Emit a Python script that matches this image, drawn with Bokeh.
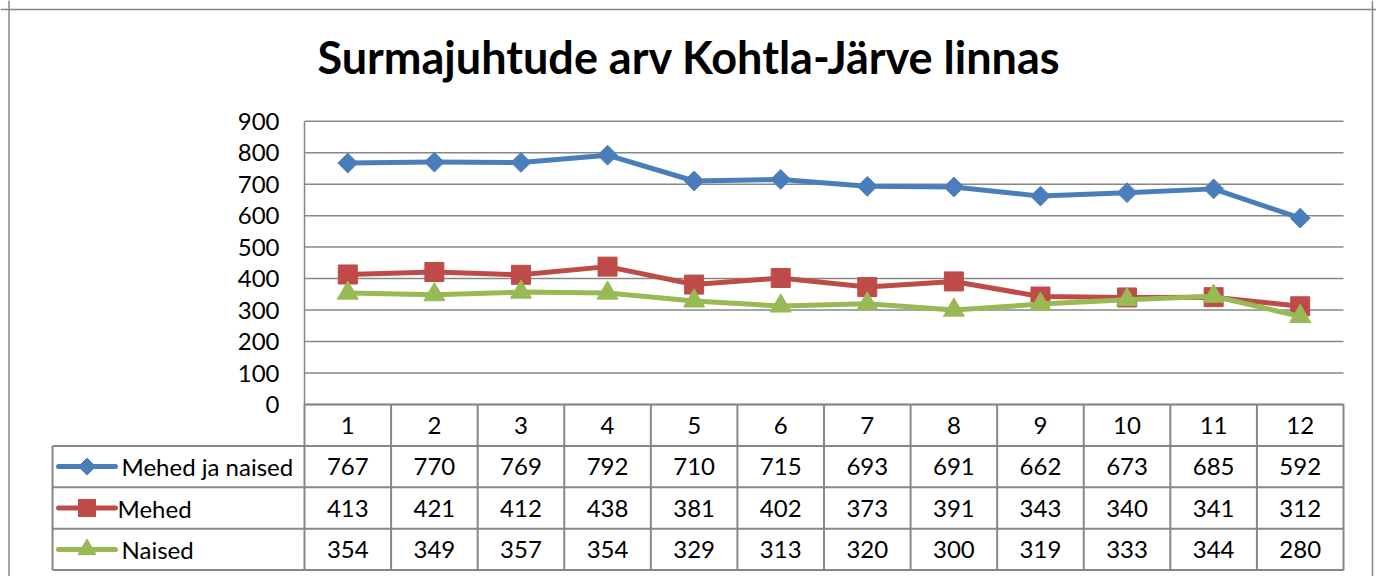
import numpy as np
from bokeh.plotting import figure
from bokeh.models import Range1d, LinearAxis, FixedTicker, Span
from bokeh.core.properties import value
from bokeh.embed import file_html
from bokeh.resources import INLINE

# ---------------- data ----------------
title = "Surmajuhtude arv Kohtla-Järve linnas"
categories = ["1", "2", "3", "4", "5", "6", "7", "8", "9", "10", "11", "12"]
series_names = ["Mehed ja naised", "Mehed", "Naised"]
total = [767, 770, 769, 792, 710, 715, 693, 691, 662, 673, 685, 592]
men = [413, 421, 412, 438, 381, 402, 373, 391, 343, 340, 341, 312]
women = [354, 349, 357, 354, 329, 313, 320, 300, 319, 333, 344, 280]
y_ticks = [0, 100, 200, 300, 400, 500, 600, 700, 800, 900]

# ---------------- styles / layout ----------------
W, H = 1376, 576
FONT = "Lato"
GRAY = "#878787"
COLORS = ["#4A7EBB", "#BE4B48", "#98B954"]
FS = "24px"

PLOT_L, PLOT_R = 304, 1343          # canvas px of x=0.5 and x=12.5
PLOT_T, PLOT_B = 120.7, 404         # canvas px of y=900 and y=0
ROW_H = 41.4                        # table row height px
LEG_L = 52                          # canvas px of table legend column left

n = len(categories)
ux = (PLOT_R - PLOT_L) / n
ky = (PLOT_B - PLOT_T) / y_ticks[-1]

def cx(px):  # canvas px -> data x
    return 0.5 + (px - PLOT_L) / ux

def cy(py):  # canvas px (from top) -> data y
    return (PLOT_B - py) / ky

x_range = Range1d(cx(0), cx(W))
y_range = Range1d(cy(H), cy(0))

p = figure(width=W, height=H, x_range=x_range, y_range=y_range,
           x_axis_type=None, y_axis_type=None, toolbar_location=None,
           output_backend="svg", min_border=0)
p.grid.visible = False
p.outline_line_color = None
p.background_fill_color = "white"
p.border_fill_color = "white"

# table range: t=0 at top of header row, increasing downward by one per row
p.extra_y_ranges = {"tbl": Range1d((H - PLOT_B) / ROW_H, -PLOT_B / ROW_H)}

# outer chart frame
for loc in [cx(8.5), cx(1372)]:
    p.add_layout(Span(location=loc, dimension="height", line_color=GRAY, line_width=1.5))
p.add_layout(Span(location=cy(9), dimension="width", line_color=GRAY, line_width=1.5))

# y axis
ax = LinearAxis(fixed_location=0.5, ticker=FixedTicker(ticks=y_ticks),
                bounds=(y_ticks[0], y_ticks[-1]))
ax.axis_line_color = GRAY
ax.axis_line_width = 1.5
ax.major_tick_line_color = None
ax.minor_tick_line_color = None
ax.major_tick_out = 0
ax.major_tick_in = 0
ax.major_label_standoff = 25
ax.major_label_text_font = FONT
ax.major_label_text_font_size = FS
ax.major_label_text_color = "black"
p.add_layout(ax, "left")

# horizontal gridlines
p.segment(x0=[0.5] * len(y_ticks), x1=[n + 0.5] * len(y_ticks), y0=y_ticks, y1=y_ticks,
          line_color=GRAY, line_width=1.5)

# title
p.text(x=[cx(688.5)], y=[cy(56.5)], text=[title], text_font=value(FONT),
       text_font_style="bold", text_font_size="45px", text_align="center",
       text_baseline="middle", text_color="black")

# series
xs = list(range(1, n + 1))
all_series = [total, men, women]
markers = [("square", np.pi / 4, 14), ("square", 0, 19), ("triangle", 0, 21)]
for vals, col, (mk, ang, sz) in zip(all_series, COLORS, markers):
    p.line(xs, vals, line_color=col, line_width=5, line_join="round")
    p.scatter(xs, vals, marker=mk, angle=ang, size=sz, fill_color=col, line_color=col)

# data table grid
nrows = len(series_names) + 1
leg_x = cx(LEG_L)
h_x0 = [0.5] + [leg_x] * nrows
h_x1 = [n + 0.5] * (nrows + 1)
h_y = list(range(nrows + 1))
p.segment(x0=h_x0, x1=h_x1, y0=h_y, y1=h_y, line_color=GRAY, line_width=2,
          y_range_name="tbl")
v_x = [i + 0.5 for i in range(n + 1)] + [leg_x]
v_y0 = [0] * (n + 1) + [1]
v_y1 = [nrows] * (n + 2)
p.segment(x0=v_x, x1=v_x, y0=v_y0, y1=v_y1, line_color=GRAY, line_width=2,
          y_range_name="tbl")

# header text
p.text(x=xs, y=[0.5] * n, text=categories, text_font=value(FONT), text_font_size=FS,
       text_align="center", text_baseline="middle", text_color="black",
       y_range_name="tbl")

# values
for r, vals in enumerate(all_series, start=1):
    p.text(x=xs, y=[r + 0.5] * n, text=[str(v) for v in vals], text_font=value(FONT),
           text_font_size=FS, text_align="center", text_baseline="middle",
           text_color="black", y_range_name="tbl")

# legend keys in the table
key_x0, key_x1, key_mid = cx(58), cx(115), cx(86.5)
text_px = [121, 117, 121]
key_sizes = [("square", np.pi / 4, 12), ("square", 0, 17), ("triangle", 0, 18)]
for r, (name, col, (mk, ang, sz), tx) in enumerate(zip(series_names, COLORS, key_sizes, text_px), start=1):
    p.segment(x0=[key_x0], x1=[key_x1], y0=[r + 0.5], y1=[r + 0.5], line_color=col,
              line_width=5, line_cap="round", y_range_name="tbl")
    p.scatter([key_mid], [r + 0.5], marker=mk, angle=ang, size=sz, fill_color=col,
              line_color=col, y_range_name="tbl")
    p.text(x=[cx(tx)], y=[r + 0.5], text=[name], text_font=value(FONT), text_font_size=FS,
           text_align="left", text_baseline="middle", text_color="black", y_range_name="tbl")

open("out.html", "w").write(file_html(p, INLINE))
